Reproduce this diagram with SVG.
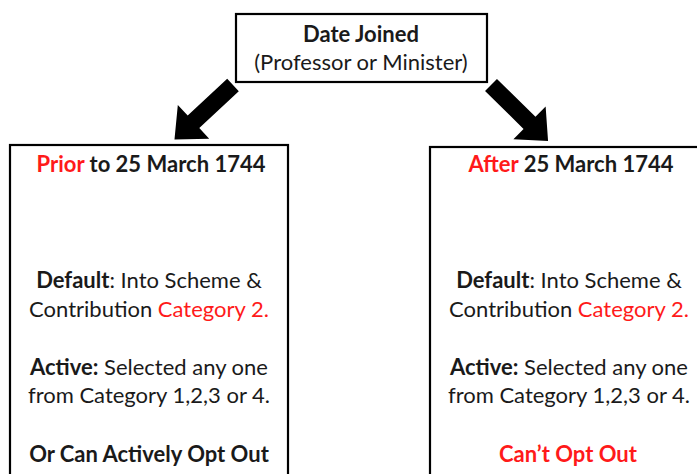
<svg xmlns="http://www.w3.org/2000/svg" width="697" height="474" viewBox="0 0 697 474">
<style>
.box{fill:#fff;stroke:#000;stroke-width:2.2}
.t{font-family:Lato,"Liberation Sans",sans-serif;font-size:22px;fill:#1a1a1a;text-anchor:middle}
.b{font-weight:bold}
.r{fill:#ff1a1a}
.arr{fill:#000}
</style>
<defs>
<polygon id="arrowShape" points="0,-8.5 54,-8.5 54,-23 80,0 54,23 54,8.5 0,8.5"/>
</defs>
<rect width="697" height="474" fill="#fff"/>
<g id="connectors">
<use href="#arrowShape" class="arr" transform="translate(233,85) rotate(137)"/>
<use href="#arrowShape" class="arr" transform="translate(491,85) rotate(44.5)"/>
</g>
<g id="date-joined">
<rect class="box" x="236" y="14" width="251" height="68"/>
<text class="t b" x="361" y="42">Date Joined</text>
<text class="t" x="361" y="70">(Professor or Minister)</text>
</g>
<g id="prior">
<rect class="box" x="10" y="145" width="278" height="340"/>
<text class="t" x="151" y="172"><tspan class="b r">Prior</tspan><tspan class="b"> to 25 March 1744</tspan></text>
<text class="t" x="149" y="288"><tspan class="b">Default</tspan>: Into Scheme &amp;</text>
<text class="t" x="149" y="317">Contribution <tspan class="r">Category 2.</tspan></text>
<text class="t" x="149" y="375"><tspan class="b">Active:</tspan> Selected any one</text>
<text class="t" x="149" y="403">from Category 1,2,3 or 4.</text>
<text class="t b" x="149" y="462">Or Can Actively Opt Out</text>
</g>
<g id="after">
<rect class="box" x="430" y="147" width="280" height="340"/>
<text class="t" x="571" y="172"><tspan class="b r">After</tspan><tspan class="b"> 25 March 1744</tspan></text>
<text class="t" x="569" y="288"><tspan class="b">Default</tspan>: Into Scheme &amp;</text>
<text class="t" x="569" y="317">Contribution <tspan class="r">Category 2.</tspan></text>
<text class="t" x="569" y="375"><tspan class="b">Active:</tspan> Selected any one</text>
<text class="t" x="569" y="403">from Category 1,2,3 or 4.</text>
<text class="t b r" x="568" y="462">Can’t Opt Out</text>
</g>
</svg>
